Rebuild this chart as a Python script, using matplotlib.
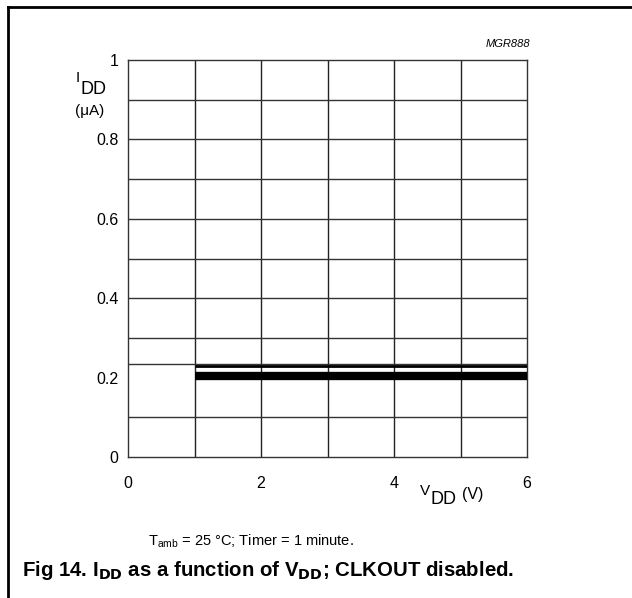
import matplotlib
matplotlib.use('Agg')
import matplotlib.pyplot as plt
from matplotlib.lines import Line2D

plt.rcParams['font.family'] = ['Liberation Sans', 'DejaVu Sans']

# data
vdd = [1, 2, 3, 4, 5, 6]
idd_main = [0.205, 0.205, 0.205, 0.205, 0.205, 0.205]
idd_upper = [0.229, 0.229, 0.229, 0.229, 0.229, 0.229]

x_ticks = [0, 2, 4, 6]
y_ticks = [0, 0.2, 0.4, 0.6, 0.8, 1]
x_grid = [1, 2, 3, 4, 5]
y_grid = [0.1, 0.234, 0.3, 0.4, 0.5, 0.6, 0.7, 0.8, 0.9]

W, H = 632, 598


def px(x, y):
    # pixel position -> figure fraction
    return x / W, 1 - y / H


fig = plt.figure(figsize=(6.32, 5.98), dpi=100)
ax = fig.add_axes([128 / W, 1 - 457 / H, 399 / W, 397 / H])

for x in x_grid:
    ax.axvline(x, color='#222222', lw=1.0, zorder=1)
for y in y_grid:
    ax.axhline(y, color='#333333', lw=1.0, zorder=1)

ax.plot(vdd, idd_main, color='black', lw=6.0, solid_capstyle='butt', zorder=3)
ax.plot(vdd, idd_upper, color='black', lw=2.0, solid_capstyle='butt', zorder=3)

ax.set_xlim(0, 6)
ax.set_ylim(0, 1)
for s in ax.spines.values():
    s.set_color('#333333')
    s.set_linewidth(1.0)
ax.tick_params(length=0, labelsize=11.5)
ax.set_xticks(x_ticks)
ax.set_xticklabels(['0', '2', '4', '6'])
ax.set_yticks(y_ticks)
ax.set_yticklabels(['0', '0.2', '0.4', '0.6', '0.8', '1'])
ax.tick_params(axis='y', pad=7)
ax.tick_params(axis='x', pad=14)

# axis titles placed like the datasheet
fig.text(*px(76, 78), 'I', fontsize=11, ha='left', va='center')
fig.text(*px(81, 89), 'DD', fontsize=13, ha='left', va='center')
fig.text(*px(75, 111), '(\u03bcA)', fontsize=11, ha='left', va='center')
fig.text(*px(420, 491), 'V', fontsize=11, ha='left', va='center')
fig.text(*px(431, 500), 'DD', fontsize=13, ha='left', va='center')
fig.text(*px(462, 494), '(V)', fontsize=11.5, ha='left', va='center')
fig.text(*px(530, 44), 'MGR888', fontsize=8, style='italic', ha='right', va='center')

fig.text(*px(148, 541), r'T$_{\mathregular{amb}}$ = 25 °C; Timer = 1 minute.',
         fontsize=10.5, ha='left', va='center')
fig.text(*px(22, 571),
         r'Fig 14. I$_{\mathbf{DD}}$ as a function of V$_{\mathbf{DD}}$; CLKOUT disabled.',
         fontsize=14.7, fontweight='bold', ha='left', va='center')

# frame around the figure (top and left only)
fig.add_artist(Line2D([8 / W, 1], [1 - 6.5 / H, 1 - 6.5 / H], color='black', lw=2.0,
                      transform=fig.transFigure))
fig.add_artist(Line2D([8 / W, 8 / W], [0, 1 - 6.5 / H], color='black', lw=2.0,
                      transform=fig.transFigure))

fig.savefig('out.png', dpi=100)
